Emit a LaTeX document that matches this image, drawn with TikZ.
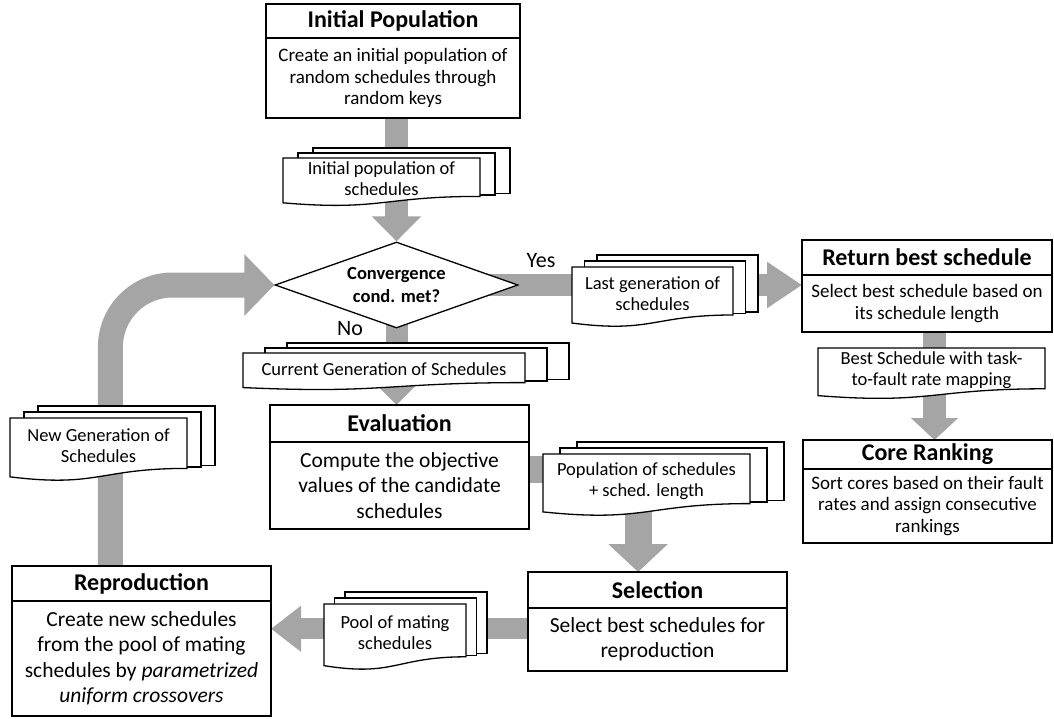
\documentclass[tikz,border=0pt]{standalone}
\usepackage{fontspec}
\setmainfont{Carlito}
\usetikzlibrary{positioning,shapes.geometric,arrows.meta,calc}

\definecolor{arrowgray}{RGB}{165,165,165}
\pgfdeclarelayer{background}
\pgfsetlayers{background,main}

\tikzset{
  boxline/.style={draw=black,line width=1.3pt,fill=white},
  titlebox/.style={boxline,outer sep=0pt,inner sep=0pt,
    font=\bfseries\fontsize{24}{28}\selectfont},
  bodybox/.style={boxline,outer sep=0pt,inner sep=0pt,align=center,
    font=\fontsize{19}{21.5}\selectfont},
  bigbody/.style={bodybox,font=\fontsize{21.5}{25.5}\selectfont},
  docline/.style={boxline,line join=miter},
  doctext/.style={align=center,inner sep=0pt,font=\fontsize{18.5}{21}\selectfont},
  flow/.style={draw=arrowgray,line width=#1},
}

% one sheet with a wavy lower edge: name, x, y, width, height, text
\newcommand{\docpage}[6]{%
  \draw[docline] (#2,#3) -- (#2+#4,#3) -- (#2+#4,#3+0.8*#5)
    .. controls (#2+0.5*#4,#3+0.8*#5) and (#2+0.5*#4,#3+1.107*#5)
    .. (#2,#3+0.934*#5) -- cycle;
  \node[doctext] (#1) at (#2+0.5*#4,#3+0.44*#5) {#6};
}
% three sheets: name, x, y, width, height, dx, dy, text
\newcommand{\docstack}[8]{%
  \foreach \k in {2,1}
    \draw[docline] (#2+\k*#6,#3-\k*#7) rectangle (#2+#4+\k*#6,#3+0.8*#5-1.5*\k);
  \docpage{#1}{#2}{#3}{#4}{#5}{#8}
}

\begin{document}
\begin{tikzpicture}[x=1pt,y=-1pt]
  \useasboundingbox (0,0) rectangle (1054,719);

  % boxes
  \node[titlebox,anchor=north west,minimum width=254pt,minimum height=34pt] (init) at (266,4) {Initial Population};
  \node[bodybox,below=0pt of init,minimum width=254pt,minimum height=80pt] (initbody)
    {Create an initial population of\\random schedules through\\random keys};

  \node[titlebox,anchor=north west,minimum width=250pt,minimum height=35pt] (ret) at (802,240) {Return best schedule};
  \node[bodybox,below=0pt of ret,minimum width=250pt,minimum height=57pt] (retbody)
    {Select best schedule based on\\its schedule length};

  \node[titlebox,anchor=north west,minimum width=249pt,minimum height=29pt] (core) at (803,440) {Core Ranking};
  \node[bodybox,below=0pt of core,minimum width=249pt,minimum height=74pt] (corebody)
    {Sort cores based on their fault\\rates and assign consecutive\\rankings};

  \node[titlebox,anchor=north west,minimum width=259pt,minimum height=37pt] (eval) at (270,405) {Evaluation};
  \node[bigbody,below=0pt of eval,minimum width=259pt,minimum height=87pt] (evalbody)
    {Compute the objective\\values of the candidate\\schedules};

  \node[titlebox,anchor=north west,minimum width=259pt,minimum height=36pt] (sel) at (528,572) {Selection};
  \node[bigbody,below=0pt of sel,minimum width=259pt,minimum height=63pt] (selbody)
    {Select best schedules for\\reproduction};

  \node[titlebox,anchor=north west,minimum width=259pt,minimum height=35pt] (repro) at (12,566) {Reproduction};
  \node[bigbody,below=0pt of repro,minimum width=259pt,minimum height=115pt] (reprobody)
    {Create new schedules\\from the pool of mating\\schedules by \textit{parametrized}\\\textit{uniform crossovers}};

  % decision
  \node[boxline,diamond,shape aspect=2.8,minimum width=243pt,minimum height=86pt,inner sep=0pt,
    align=center,font=\bfseries\fontsize{18.5}{23}\selectfont] (cond) at (396.5,285) {Convergence\\cond. met?};
  \node[font=\fontsize{22}{26}\selectfont] (yes) at (541,261) {Yes};
  \node[font=\fontsize{22}{26}\selectfont] (no) at (350,329) {No};

  % documents
  \docstack{initdoc}{283}{158}{197}{48}{15}{5}{Initial population of\\schedules}
  \docstack{lastdoc}{572}{267}{161}{60}{12.5}{6}{Last generation of\\schedules}
  \docstack{curdoc}{243}{353}{282}{37}{22}{5}{Current Generation of Schedules}
  \docstack{popdoc}{543}{454}{207}{62}{17}{6}{Population of schedules\\+ sched. length}
  \docstack{pooldoc}{324}{604}{142}{66}{10.5}{6}{Pool of mating\\schedules}
  \docstack{newdoc}{10}{418}{177}{63}{14}{6}{New Generation of\\Schedules}
  \docpage{bestdoc}{818}{348}{227}{51}{Best Schedule with task-\\to-fault rate mapping}

  % block arrows behind everything
  \begin{pgfonlayer}{background}
    \draw[flow=23pt,-{Triangle[length=25pt,width=48pt]}] (initbody.south -| cond.north) -- (cond.north);
    \draw[flow=22pt,-{Triangle[length=35pt,width=44pt]}] (cond.center) -- (cond.center -| retbody.west);
    \draw[flow=22pt,-{Triangle[length=25pt,width=48pt]}] (cond.center) -- (cond.center |- eval.north);
    \coordinate (evalout) at ($(evalbody.north east)!0.32!(evalbody.south east)$);
    \coordinate (selin) at ($(sel.north west)!0.425!(sel.north east)$);
    \draw[flow=27pt,-{Triangle[length=28pt,width=58pt]}] (evalout) -| (selin);
    \coordinate (retout) at ($(retbody.south west)!0.53!(retbody.south east)$);
    \draw[flow=23pt,-{Triangle[length=22pt,width=46pt]}] (retout) -- (retout |- core.north);
    \coordinate (selout) at ($(selbody.north west)!0.33!(selbody.south west)$);
    \draw[flow=21pt,-{Triangle[length=30pt,width=44pt]}] (selout) -- (selout -| reprobody.east);
    \coordinate (reproout) at ($(repro.north west)!0.38!(repro.north east)$);
    \draw[flow=25pt,rounded corners=62pt,-{Triangle[length=30pt,width=60pt]}] (reproout) |- (cond.west);
  \end{pgfonlayer}
\end{tikzpicture}
\end{document}
